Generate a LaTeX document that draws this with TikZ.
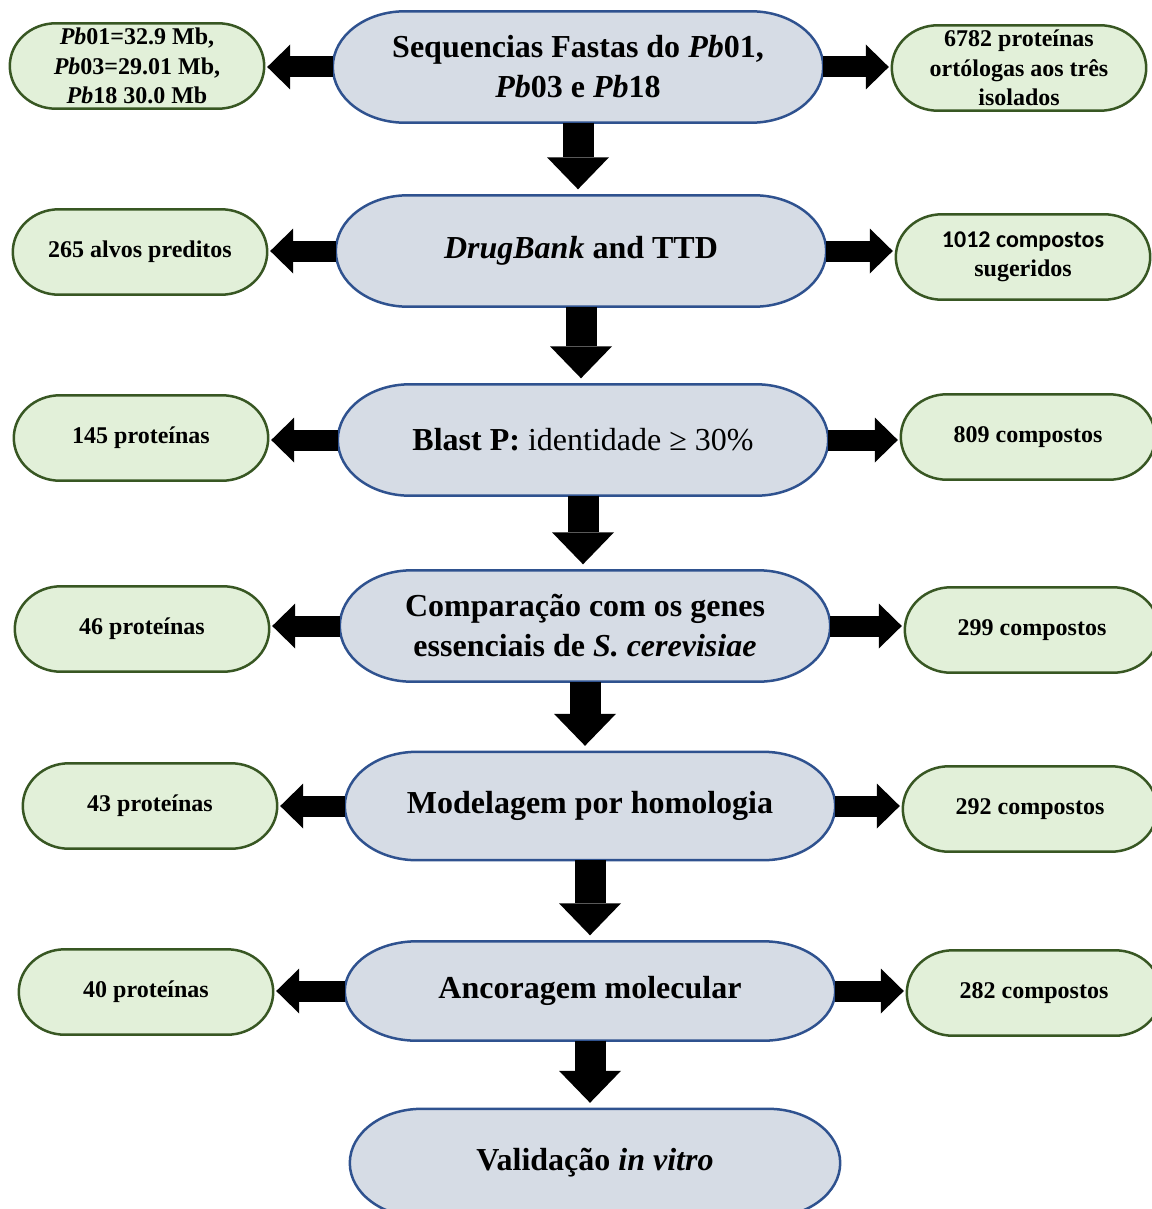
\documentclass[tikz,border=0pt]{standalone}
\usepackage{fontspec}
\setmainfont{Liberation Serif}
\newfontfamily\calibri{Carlito}
\usepackage{tikz}
\usetikzlibrary{arrows.meta, calc, backgrounds}
\definecolor{flowblue}{RGB}{214, 220, 229}
\definecolor{flownavy}{RGB}{47, 82, 143}
\definecolor{flowgreen}{RGB}{226, 240, 217}
\definecolor{flowolive}{RGB}{56, 87, 35}

\begin{document}
\begin{tikzpicture}[x=1pt, y=-1pt,
    mainbox/.style={minimum width=490pt, minimum height=111pt, inner sep=0pt, align=center, font=\fontsize{32}{40}\selectfont\bfseries},
    sidebox/.style={minimum width=254pt, minimum height=85pt, inner sep=0pt, align=center, font=\fontsize{24}{29.5}\selectfont\bfseries},
    mainline/.style={draw=flownavy, fill=flowblue, line width=2.5pt},
    sideline/.style={draw=flowolive, fill=flowgreen, line width=2.5pt},
    sidearrow/.style={line width=21pt, -{Triangle[length=23pt, width=45pt, line width=0pt]}, shorten >=3pt},
    downarrow/.style={line width=31pt, -{Triangle[length=32pt, width=62pt, line width=0pt]}, shorten >=6pt}]
    \useasboundingbox (0,0) rectangle (1151,1209);

    % Main steps
    \node[mainbox] (m1) at (578, 67) {Sequencias Fastas do \textit{Pb}01,\\ \textit{Pb}03 e \textit{Pb}18};
    \node[mainbox] (m2) at (581, 251) {\textit{DrugBank} and TTD};
    \node[mainbox] (m3) at (583, 440) {Blast P: {\mdseries identidade ≥ 30\%}};
    \node[mainbox] (m4) at (585, 626) {Comparação com os genes\\ essenciais de \textit{S. cerevisiae}};
    \node[mainbox, minimum height=108pt] (m5) at (590, 806) {Modelagem por homologia};
    \node[mainbox, minimum height=99pt] (m6) at (590, 991) {Ancoragem molecular};
    \node[mainbox, minimum height=108pt] (m7) at (595, 1163) {Validação \textit{in vitro}};

    % Left results
    \node[sidebox] (l1) at (137, 66) {\textit{Pb}01=32.9 Mb,\\ \textit{Pb}03=29.01 Mb,\\ \textit{Pb}18 30.0 Mb};
    \node[sidebox] (l2) at (140, 252) {265 alvos preditos};
    \node[sidebox] (l3) at (141, 438) {145 proteínas};
    \node[sidebox] (l4) at (142, 629) {46 proteínas};
    \node[sidebox] (l5) at (150, 806) {43 proteínas};
    \node[sidebox] (l6) at (146, 992) {40 proteínas};

    % Right results
    \node[sidebox] (r1) at (1019, 68) {6782 proteínas\\ ortólogas aos três\\ isolados};
    \node[sidebox] (r2) at (1023, 257) {{\calibri 1012 compostos}\\ sugeridos};
    \node[sidebox] (r3) at (1028, 437) {809 compostos};
    \node[sidebox] (r4) at (1032, 630) {299 compostos};
    \node[sidebox] (r5) at (1030, 809) {292 compostos};
    \node[sidebox] (r6) at (1034, 993) {282 compostos};

    % Terminator outlines behind the texts
    \begin{scope}[on background layer]
        \foreach \nd/\rx/\sty in {m1/72/mainline, m2/72/mainline, m3/72/mainline, m4/72/mainline, m5/72/mainline, m6/72/mainline, m7/72/mainline,
                                  l1/46/sideline, l2/46/sideline, l3/46/sideline, l4/46/sideline, l5/46/sideline, l6/46/sideline,
                                  r1/46/sideline, r2/46/sideline, r3/46/sideline, r4/46/sideline, r5/46/sideline, r6/46/sideline}
            \draw[\sty] let \p1=($(\nd.north)-(\nd.south)$), \n1={0.5*\y1} in
                ($(\nd.north west)+(\rx,0)$) -- ($(\nd.north east)+(-\rx,0)$)
                arc[start angle=90, end angle=-90, x radius=\rx pt, y radius=\n1]
                -- ($(\nd.south west)+(\rx,0)$)
                arc[start angle=270, end angle=90, x radius=\rx pt, y radius=\n1] -- cycle;
    \end{scope}

    % Down arrows
    \draw[downarrow] (m1.south) -- (m1.south |- m2.north);
    \draw[downarrow] (m2.south) -- (m2.south |- m3.north);
    \draw[downarrow] (m3.south) -- (m3.south |- m4.north);
    \draw[downarrow] (m4.south) -- (m4.south |- m5.north);
    \draw[downarrow] (m5.south) -- (m5.south |- m6.north);
    \draw[downarrow] (m6.south) -- (m6.south |- m7.north);

    % Side arrows
    \foreach \n in {1,...,6} {
        \draw[sidearrow] (m\n.west) -- (m\n.west -| l\n.east);
        \draw[sidearrow] (m\n.east) -- (m\n.east -| r\n.west);
    }
\end{tikzpicture}
\end{document}
